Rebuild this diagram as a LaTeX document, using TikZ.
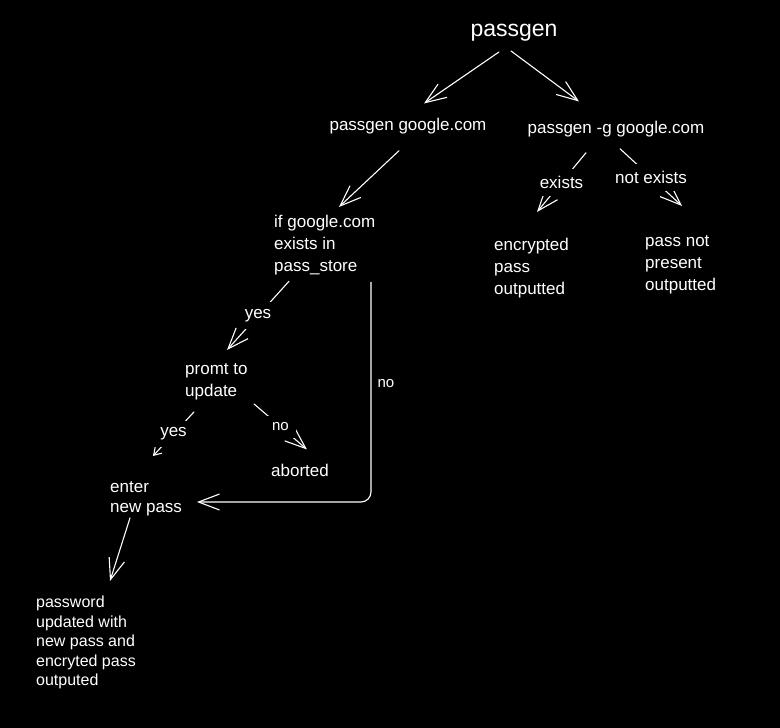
\documentclass[tikz,border=0pt]{standalone}
\usepackage{fontspec}
\setmainfont{Liberation Sans}
\usetikzlibrary{arrows.meta,calc}
\begin{document}
\begin{tikzpicture}[x=1pt,y=-1pt,
  txt/.style={inner sep=0pt, text=white, font=\fontsize{17}{22}\selectfont},
  blk/.style={txt, align=left, anchor=north west},
  lbl/.style={txt, fill=black, inner sep=7pt},
  arr/.style={draw=white, line width=1.1pt, line cap=round, -{Straight Barb[length=21pt,width=16pt]}},
  tiny/.style={-{Straight Barb[length=7pt,width=9pt]}}]
\fill[black] (0,0) rectangle (780,728);
\node[txt, anchor=base, font=\fontsize{23}{28}\selectfont] (root) at (514,36) {passgen};
\node[txt, anchor=base] (gen) at (408,130) {passgen google.com};
\node[txt, anchor=base] (genG) at (616,133) {passgen -g google.com};
\node[blk] (ifex) at (274,215) {if google.com\\exists in\\pass\_store};
\node[blk] (enc) at (494,238) {encrypted\\pass\\outputted};
\node[blk] (nopass) at (645,235) {pass not\\present\\outputted};
\node[blk] (promt) at (185,363) {promt to\\update};
\node[txt, anchor=base west] (abort) at (271,476) {aborted};
\node[blk, font=\fontsize{17}{20}\selectfont] (enter) at (110,481) {enter\\new pass};
\node[blk, font=\fontsize{16}{19.5}\selectfont] (upd) at (36,596) {password\\updated with\\new pass and\\encryted pass\\outputed};
\draw[arr] ($(root.south)+(-15,11)$) -- ($(gen.north)+(16,-14)$);
\draw[arr] ($(root.south)+(-3,10)$) -- ($(genG.north)+(-37,-19)$);
\draw[arr] ($(gen.south)+(-9,17)$) -- ($(ifex.north west)+(65,-8)$);
\draw[arr] ($(genG.south)+(-30,16)$) -- node[lbl]{exists} ($(enc.north west)+(43,-26)$);
\draw[arr] ($(genG.south)+(4,12)$) -- node[lbl]{not exists} ($(nopass.north west)+(37,-29)$);
\draw[arr] ($(ifex.south west)+(15,6)$) -- node[lbl]{yes} ($(promt.north west)+(42,-13)$);
\draw[arr, rounded corners=10pt] ($(ifex.south west)+(97,7)$) |- node[txt, pos=.23, right=6pt, font=\fontsize{15}{18}\selectfont]{no} ($(enter.north west)+(87,21)$);
\draw[arr, tiny] ($(promt.south west)+(9,12)$) -- node[lbl]{yes} ($(enter.north west)+(43,-25)$);
\draw[arr] ($(promt.south west)+(69,4)$) -- node[lbl, font=\fontsize{15}{18}\selectfont]{no} ($(abort.north west)+(36,-14)$);
\draw[arr] ($(enter.south west)+(20,2)$) -- ($(upd.north west)+(74,-15)$);
\end{tikzpicture}
\end{document}
